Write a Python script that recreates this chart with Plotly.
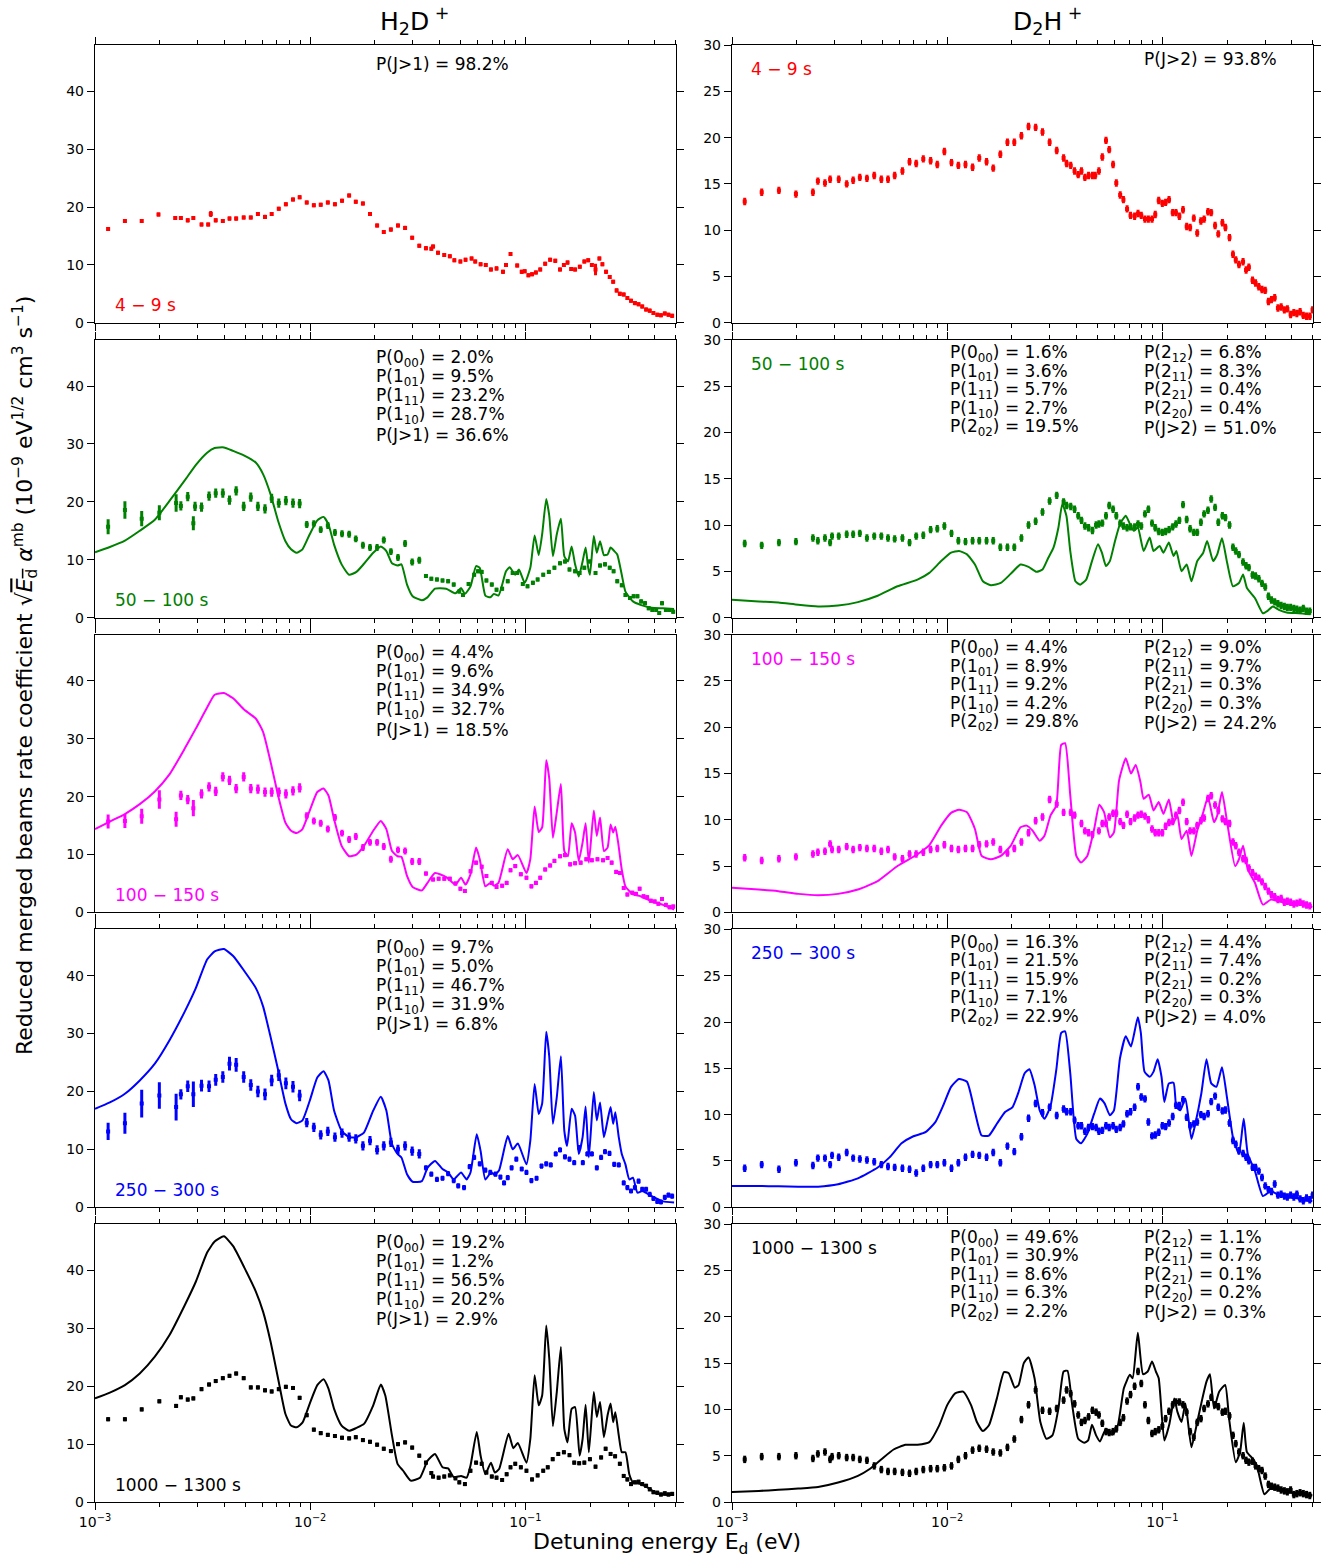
import numpy as np
import plotly.graph_objects as go
from plotly.subplots import make_subplots

# ---------------- DATA (energies stored as log10(E/eV)) ----------------
# H2D+ (left column)
L1_logE = [-2.939,-2.861,-2.783,-2.705,-2.627,-2.601,-2.569,-2.543,-2.505,-2.474,-2.462,-2.439,-2.406,-2.375,-2.344,-2.309,-2.276,-2.243,-2.210,-2.179,
           -2.146,-2.113,-2.080,-2.049,-2.016,-1.983,-1.951,-1.918,-1.885,-1.852,-1.819,-1.788,-1.755,-1.722,-1.689,-1.658,-1.625,-1.592,-1.559,-1.526,
           -1.493,-1.462,-1.437,-1.429,-1.406,-1.377,-1.351,-1.330,-1.302,-1.278,-1.250,-1.233,-1.208,-1.184,-1.160,-1.134,-1.104,-1.090,-1.069,-1.038,
           -1.017,-1.003,-0.986,-0.969,-0.951,-0.931,-0.908,-0.885,-0.861,-0.839,-0.821,-0.804,-0.787,-0.769,-0.747,-0.726,-0.708,-0.691,-0.674,-0.656,
           -0.642,-0.625,-0.608,-0.592,-0.576,-0.561,-0.543,-0.526,-0.509,-0.491,-0.474,-0.457,-0.439,-0.422,-0.405,-0.387,-0.370,-0.352,-0.335,-0.318]
L1_val = [16.2,17.6,17.6,18.7,18.1,18.1,17.7,18.1,17.0,17.0,18.8,17.7,17.6,18.0,18.0,18.2,18.2,18.8,18.3,18.8,
          19.7,20.5,21.3,21.7,20.8,20.3,20.4,20.8,20.5,21.1,22.0,20.9,20.6,18.8,16.8,15.7,16.1,16.8,16.4,14.7,
          13.3,12.9,12.8,13.2,12.1,11.7,11.5,10.8,10.6,10.9,11.1,10.6,10.1,10.0,9.2,9.4,8.8,10.0,11.9,9.9,
          8.8,8.9,8.2,8.4,8.7,9.2,10.2,10.9,10.7,9.2,10.0,10.4,9.3,9.2,9.7,10.6,10.8,10.0,9.2,11.1,
          10.1,8.8,7.9,7.1,5.6,5.0,4.9,4.3,3.8,3.4,3.2,2.8,2.3,2.1,1.7,1.4,1.3,1.6,1.4,1.2]
L1_err = [0.35]*10 + [0.5] + [0.35]*67 + [1.0] + [0.35]*21

L2_logE = [-2.939,-2.861,-2.783,-2.701,-2.623,-2.601,-2.569,-2.543,-2.535,-2.505,-2.470,-2.439,-2.406,-2.375,-2.344,-2.309,-2.276,-2.243,-2.210,-2.179,
           -2.146,-2.113,-2.080,-2.049,-2.016,-1.983,-1.951,-1.918,-1.885,-1.852,-1.819,-1.788,-1.755,-1.722,-1.689,-1.658,-1.625,-1.592,-1.559,-1.526,
           -1.493,-1.462,-1.437,-1.411,-1.385,-1.359,-1.333,-1.307,-1.290,-1.264,-1.238,-1.220,-1.203,-1.181,-1.156,-1.134,-1.108,-1.082,-1.059,-1.038,
           -1.012,-0.990,-0.965,-0.943,-0.917,-0.891,-0.865,-0.839,-0.816,-0.795,-0.769,-0.748,-0.726,-0.700,-0.674,-0.653,-0.630,-0.608,-0.590,-0.573,
           -0.552,-0.535,-0.514,-0.497,-0.479,-0.462,-0.444,-0.427,-0.410,-0.392,-0.378,-0.365,-0.347,-0.330,-0.313]
L2_val = [15.7,18.6,17.1,18.1,19.8,19.3,20.9,16.3,19.2,19.1,21.0,21.5,21.5,20.3,21.9,19.2,20.8,19.2,18.8,20.6,
          19.8,20.2,19.8,19.7,16.1,16.2,15.2,15.9,14.7,14.5,14.4,13.6,12.5,12.1,12.1,13.4,11.4,10.4,12.8,9.6,
          9.9,7.2,6.7,6.6,6.4,6.3,5.7,4.5,3.9,5.8,7.4,8.0,7.9,6.4,5.7,4.8,5.0,6.3,7.7,7.7,
          5.8,5.4,6.0,6.6,7.4,7.9,8.6,9.4,9.7,8.3,8.0,7.7,8.6,9.7,7.7,9.0,9.2,8.6,8.0,6.3,
          5.6,3.9,3.4,3.7,3.7,2.8,2.5,1.6,1.3,1.3,0.8,2.5,1.3,1.3,1.0]
L2_err = [1.3,1.5,1.3,1.3,1.5,0.8,0.8,1.2] + [0.8]*16 + [0.6]*17 + [0.35]*54
L2_line_logE = [-3.0,-2.931,-2.861,-2.792,-2.722,-2.653,-2.583,-2.531,-2.479,-2.444,-2.401,-2.358,-2.306,-2.253,-2.219,-2.184,-2.149,-2.115,-2.089,-2.063,
                -2.036,-2.002,-1.967,-1.938,-1.915,-1.889,-1.854,-1.819,-1.785,-1.750,-1.707,-1.672,-1.646,-1.620,-1.594,-1.576,-1.550,-1.524,-1.481,-1.455,
                -1.420,-1.368,-1.325,-1.299,-1.281,-1.255,-1.229,-1.212,-1.186,-1.163,-1.146,-1.125,-1.090,-1.073,-1.047,-1.030,-1.003,-0.977,-0.957,-0.938,
                -0.922,-0.903,-0.889,-0.872,-0.854,-0.835,-0.819,-0.802,-0.785,-0.769,-0.752,-0.734,-0.720,-0.708,-0.700,-0.682,-0.668,-0.653,-0.635,-0.618,
                -0.604,-0.587,-0.573,-0.552,-0.535,-0.500,-0.465,-0.413,-0.361,-0.309]
L2_line_val = [11.3,12.2,13.3,15.0,16.9,20.2,23.7,26.4,28.5,29.3,29.4,28.8,28.0,26.8,24.8,21.3,16.7,13.2,11.8,11.2,
               11.8,14.4,16.8,17.4,16.1,12.6,9.2,7.4,7.9,9.3,11.2,12.3,11.5,9.4,9.0,9.2,5.7,3.7,3.0,3.5,
               5.0,5.0,4.2,5.1,4.1,5.4,8.9,8.6,3.8,3.5,4.1,3.8,8.0,8.7,7.4,8.3,6.0,8.6,14.2,10.8,
               14.4,20.5,17.6,10.6,14.4,17.1,10.6,9.7,12.3,9.2,7.1,9.7,12.1,8.6,7.4,14.1,11.2,13.2,10.8,10.9,
               12.1,11.5,10.9,7.4,4.5,2.8,2.2,1.7,1.6,1.5]

L3_logE = [-2.939,-2.861,-2.783,-2.701,-2.623,-2.601,-2.569,-2.543,-2.505,-2.470,-2.439,-2.406,-2.375,-2.344,-2.309,-2.276,-2.243,-2.210,-2.179,-2.146,
           -2.113,-2.080,-2.049,-2.016,-1.983,-1.951,-1.918,-1.885,-1.852,-1.819,-1.788,-1.755,-1.722,-1.689,-1.658,-1.625,-1.592,-1.559,-1.526,-1.493,
           -1.462,-1.429,-1.403,-1.377,-1.351,-1.325,-1.302,-1.281,-1.255,-1.229,-1.203,-1.181,-1.156,-1.134,-1.108,-1.087,-1.069,-1.047,-1.021,-0.995,
           -0.972,-0.951,-0.931,-0.908,-0.885,-0.865,-0.839,-0.816,-0.792,-0.769,-0.743,-0.717,-0.691,-0.665,-0.639,-0.618,-0.599,-0.578,-0.561,-0.543,
           -0.526,-0.503,-0.486,-0.469,-0.451,-0.434,-0.417,-0.399,-0.382,-0.365,-0.347,-0.330,-0.313]
L3_val = [15.7,15.8,16.6,19.5,16.1,20.2,19.5,18.0,20.5,21.7,20.9,23.4,22.8,21.4,23.4,21.4,21.3,20.8,20.8,20.8,
          20.5,21.0,21.5,16.7,15.8,15.4,14.4,16.4,13.7,12.6,13.1,11.2,12.1,12.1,11.4,9.2,10.8,10.6,8.8,8.8,
          6.7,5.7,5.8,5.8,5.8,5.0,4.1,3.7,7.1,8.6,7.9,6.3,5.1,4.4,4.6,5.1,7.3,8.0,6.6,6.0,
          4.5,5.1,6.0,7.4,8.1,8.9,9.7,9.9,8.3,8.5,8.6,9.2,9.0,9.2,9.0,9.4,8.6,7.0,6.8,4.2,
          3.1,3.4,3.2,4.1,2.8,2.6,2.0,1.9,1.5,2.3,1.3,0.9,1.0]
L3_err = [1.2,1.2,1.3,1.6,1.3,0.8,0.8,1.4] + [0.8]*15 + [0.6]*17 + [0.35]*53
L3_line_logE = [-3.0,-2.931,-2.861,-2.792,-2.722,-2.653,-2.583,-2.531,-2.479,-2.444,-2.401,-2.358,-2.306,-2.253,-2.219,-2.184,-2.149,-2.115,-2.089,-2.063,
                -2.036,-2.002,-1.967,-1.938,-1.915,-1.889,-1.854,-1.819,-1.785,-1.750,-1.707,-1.672,-1.646,-1.620,-1.594,-1.576,-1.550,-1.524,-1.481,-1.455,
                -1.420,-1.368,-1.325,-1.299,-1.278,-1.255,-1.229,-1.212,-1.186,-1.163,-1.146,-1.125,-1.082,-1.059,-1.035,-0.995,-0.977,-0.957,-0.938,-0.922,
                -0.903,-0.889,-0.872,-0.854,-0.835,-0.819,-0.802,-0.785,-0.769,-0.752,-0.734,-0.720,-0.705,-0.682,-0.668,-0.653,-0.635,-0.618,-0.604,-0.592,
                -0.582,-0.569,-0.552,-0.535,-0.500,-0.465,-0.413,-0.361,-0.309]
L3_line_val = [14.4,15.7,17.0,18.7,20.9,23.9,28.3,31.8,35.4,37.6,37.9,37.0,35.0,33.5,31.2,26.0,20.2,15.5,14.1,13.7,
               14.4,17.6,20.8,21.4,20.2,16.1,11.5,9.7,10.0,11.5,14.1,15.8,14.4,10.6,9.7,9.6,6.3,4.4,3.8,5.1,
               6.8,6.1,4.8,6.0,4.8,6.6,11.2,9.2,4.5,5.1,4.6,5.1,10.9,9.2,9.9,6.8,9.2,18.3,13.9,14.7,
               26.3,23.1,12.9,17.3,22.2,10.6,9.7,15.4,13.8,8.9,12.1,15.4,8.6,17.6,13.2,16.4,10.6,11.2,15.2,13.8,
               14.8,12.1,7.4,4.5,3.1,2.8,1.9,1.3,0.5]

L4_logE = [-2.939,-2.861,-2.783,-2.701,-2.623,-2.601,-2.569,-2.543,-2.505,-2.470,-2.439,-2.406,-2.375,-2.344,-2.309,-2.276,-2.243,-2.210,-2.179,-2.146,
           -2.113,-2.080,-2.049,-2.016,-1.983,-1.951,-1.918,-1.885,-1.852,-1.819,-1.788,-1.755,-1.722,-1.689,-1.658,-1.625,-1.592,-1.559,-1.526,-1.493,
           -1.462,-1.437,-1.411,-1.385,-1.359,-1.333,-1.312,-1.285,-1.259,-1.238,-1.212,-1.186,-1.163,-1.139,-1.116,-1.099,-1.082,-1.064,-1.042,-1.017,
           -0.995,-0.972,-0.948,-0.925,-0.903,-0.882,-0.859,-0.839,-0.816,-0.795,-0.773,-0.750,-0.733,-0.712,-0.691,-0.668,-0.648,-0.630,-0.609,-0.587,
           -0.566,-0.543,-0.526,-0.509,-0.491,-0.474,-0.457,-0.439,-0.422,-0.405,-0.387,-0.370,-0.352,-0.335,-0.318]
L4_val = [13.1,14.5,17.9,19.3,17.3,19.5,20.9,19.5,21.0,20.9,22.0,22.5,24.8,24.6,22.5,21.1,20.0,19.5,21.9,22.8,
          21.4,20.8,19.3,14.6,13.8,12.5,13.1,12.1,12.8,12.1,11.8,10.6,11.5,9.9,10.6,11.2,10.0,10.6,9.7,9.2,
          6.8,5.7,4.8,5.0,5.8,4.6,3.7,3.4,7.0,8.6,7.5,6.4,6.0,5.7,5.2,4.2,5.1,6.8,8.3,6.6,
          6.0,4.6,5.0,7.1,7.5,7.3,9.2,9.9,8.7,8.3,7.7,10.3,7.7,9.2,9.2,6.8,8.6,9.6,9.3,7.4,
          7.3,4.2,3.4,2.8,3.4,4.5,3.1,3.1,2.2,1.5,1.0,0.9,1.7,2.1,1.9]
L4_err = [1.5,1.8,2.4,2.3,2.3,0.9,1.0,2.2] + [1.0]*4 + [1.2]*2 + [1.0]*9 + [0.8]*17 + [0.45]*55
L4_line_logE = [-3.0,-2.931,-2.861,-2.792,-2.722,-2.653,-2.583,-2.531,-2.479,-2.444,-2.401,-2.358,-2.306,-2.253,-2.219,-2.184,-2.149,-2.115,-2.089,-2.063,
                -2.036,-2.002,-1.967,-1.938,-1.915,-1.889,-1.854,-1.819,-1.785,-1.750,-1.707,-1.672,-1.646,-1.620,-1.594,-1.576,-1.550,-1.524,-1.481,-1.455,
                -1.420,-1.385,-1.359,-1.333,-1.299,-1.273,-1.255,-1.226,-1.208,-1.186,-1.160,-1.142,-1.122,-1.082,-1.059,-1.035,-0.995,-0.977,-0.957,-0.938,
                -0.922,-0.903,-0.889,-0.872,-0.854,-0.835,-0.819,-0.806,-0.785,-0.769,-0.752,-0.734,-0.720,-0.705,-0.682,-0.668,-0.653,-0.635,-0.618,-0.604,
                -0.592,-0.582,-0.566,-0.552,-0.535,-0.517,-0.500,-0.479,-0.457,-0.431,-0.396,-0.361,-0.309]
L4_line_val = [17.0,18.1,19.6,21.9,24.8,28.9,33.8,37.9,42.8,44.2,44.6,43.4,40.8,37.9,34.7,29.4,23.7,17.9,15.2,14.5,
               15.0,18.4,22.4,23.5,21.9,16.7,13.2,12.1,12.1,12.9,16.7,19.1,16.7,10.9,9.2,8.6,5.7,4.4,4.5,6.8,
               8.0,6.6,6.0,4.8,6.0,4.8,6.0,12.6,9.7,4.8,6.0,5.6,6.4,12.3,10.0,11.0,7.4,11.5,21.3,16.1,
               17.9,30.3,26.0,14.4,19.0,26.1,13.2,10.6,17.0,15.8,9.2,12.1,17.4,8.6,19.9,15.0,18.1,12.1,15.0,17.3,
               14.4,16.4,12.1,9.2,7.4,4.8,5.1,2.5,2.8,2.3,1.6,1.0,0.8]

L5_logE = [-2.939,-2.861,-2.783,-2.701,-2.623,-2.601,-2.569,-2.543,-2.505,-2.470,-2.439,-2.406,-2.375,-2.344,-2.309,-2.276,-2.243,-2.210,-2.179,-2.146,
           -2.113,-2.080,-2.049,-2.016,-1.983,-1.951,-1.918,-1.885,-1.852,-1.819,-1.788,-1.755,-1.722,-1.689,-1.658,-1.625,-1.592,-1.559,-1.526,-1.493,
           -1.462,-1.437,-1.429,-1.403,-1.377,-1.351,-1.325,-1.307,-1.281,-1.255,-1.229,-1.203,-1.181,-1.156,-1.134,-1.108,-1.087,-1.069,-1.047,-1.021,
           -0.995,-0.969,-0.943,-0.917,-0.896,-0.873,-0.847,-0.821,-0.795,-0.773,-0.750,-0.726,-0.700,-0.674,-0.648,-0.627,-0.604,-0.583,-0.561,-0.543,
           -0.526,-0.509,-0.491,-0.474,-0.457,-0.439,-0.422,-0.405,-0.387,-0.370,-0.352,-0.335,-0.318]
L5_val = [14.3,14.3,16.0,17.4,16.6,18.1,17.7,17.9,19.5,20.3,20.9,21.4,21.8,22.2,21.4,19.8,19.8,19.3,19.1,19.5,
          19.9,19.7,18.0,15.0,12.5,11.9,11.6,11.4,11.1,11.0,11.2,10.7,10.4,9.9,9.2,8.8,10.0,10.3,9.4,8.0,
          6.8,5.0,4.4,4.2,4.4,4.6,4.1,3.4,3.1,5.4,6.8,6.6,5.1,4.4,4.2,3.8,4.8,6.0,6.6,6.0,
          5.4,3.9,4.6,5.4,6.0,7.4,8.3,8.6,8.1,6.8,6.7,6.8,7.4,6.1,7.7,9.2,8.3,7.9,6.6,4.5,
          3.9,3.1,3.4,3.5,3.1,2.8,2.2,1.7,1.6,1.3,1.5,1.3,1.4]
L5_err = [0.35]*93
L5_line_logE = [-3.0,-2.931,-2.861,-2.792,-2.722,-2.653,-2.583,-2.531,-2.479,-2.444,-2.401,-2.358,-2.306,-2.253,-2.219,-2.184,-2.149,-2.115,-2.089,-2.063,
                -2.036,-2.002,-1.967,-1.938,-1.915,-1.889,-1.854,-1.819,-1.785,-1.750,-1.707,-1.672,-1.651,-1.620,-1.594,-1.568,-1.533,-1.490,-1.455,-1.420,
                -1.385,-1.359,-1.333,-1.299,-1.273,-1.255,-1.226,-1.208,-1.186,-1.160,-1.142,-1.122,-1.078,-1.056,-1.035,-0.995,-0.977,-0.957,-0.938,-0.922,
                -0.903,-0.889,-0.872,-0.854,-0.835,-0.819,-0.804,-0.785,-0.769,-0.748,-0.734,-0.720,-0.705,-0.682,-0.668,-0.653,-0.635,-0.618,-0.604,-0.592,
                -0.582,-0.566,-0.552,-0.535,-0.517,-0.500,-0.465,-0.431,-0.396,-0.361,-0.309]
L5_line_val = [17.9,18.9,20.2,22.2,25.1,28.9,34.0,38.1,43.1,45.0,45.9,44.2,40.5,36.4,32.9,27.7,21.3,15.2,13.2,12.9,
               13.7,17.0,20.2,21.2,19.6,16.1,13.2,12.3,12.8,13.5,16.7,20.3,18.4,11.5,6.6,5.4,3.7,4.2,7.1,8.3,
               6.0,5.8,4.3,4.5,4.2,6.3,12.1,8.0,4.8,6.8,5.1,5.7,11.8,9.3,10.2,6.8,10.9,21.9,16.7,18.4,
               30.5,24.8,13.1,19.0,26.8,12.6,10.3,16.1,16.4,8.0,10.9,16.8,8.6,19.0,14.7,17.3,11.2,15.0,17.0,13.8,
               15.5,11.5,8.6,8.6,4.8,3.4,3.1,2.5,1.6,1.3,1.2]

# D2H+ (right column)
R1_logE = [-2.941,-2.862,-2.782,-2.703,-2.624,-2.601,-2.568,-2.544,-2.504,-2.467,-2.437,-2.406,-2.373,-2.339,-2.306,-2.275,-2.244,-2.208,-2.175,-2.144,
           -2.111,-2.077,-2.046,-2.013,-1.980,-1.948,-1.915,-1.882,-1.851,-1.817,-1.786,-1.753,-1.720,-1.688,-1.655,-1.622,-1.589,-1.557,-1.524,-1.491,
           -1.459,-1.445,-1.426,-1.408,-1.391,-1.376,-1.360,-1.343,-1.325,-1.312,-1.295,-1.279,-1.262,-1.247,-1.229,-1.214,-1.196,-1.181,-1.164,-1.148,
           -1.129,-1.113,-1.098,-1.081,-1.065,-1.048,-1.033,-1.017,-1.000,-0.985,-0.969,-0.952,-0.937,-0.921,-0.904,-0.887,-0.871,-0.854,-0.838,-0.821,
           -0.806,-0.788,-0.773,-0.755,-0.740,-0.721,-0.707,-0.688,-0.672,-0.659,-0.644,-0.625,-0.611,-0.598,-0.581,-0.567,-0.552,-0.537,-0.522,-0.507,
           -0.493,-0.478,-0.463,-0.448,-0.433,-0.419,-0.404,-0.389,-0.375,-0.360,-0.345,-0.330,-0.315,-0.302]
R1_val = [13.1,14.1,14.3,13.9,14.1,15.3,15.1,15.5,15.5,15.0,15.4,15.7,15.6,15.9,15.5,15.5,15.9,16.4,17.4,17.2,
          17.7,17.5,17.1,18.5,17.3,17.0,17.1,16.8,17.8,17.4,16.7,18.2,19.5,19.5,20.2,21.2,21.1,20.6,19.5,18.6,
          17.8,17.2,17.0,16.4,16.0,16.4,15.7,15.9,15.9,15.9,16.4,17.9,19.7,18.7,17.1,15.1,13.8,13.3,12.3,11.6,
          11.5,11.8,11.6,11.2,11.2,11.2,11.7,13.2,12.9,13.0,13.3,11.9,11.9,11.5,12.2,10.4,10.3,11.3,9.7,11.0,
          11.2,12.0,11.9,10.5,9.6,10.8,10.3,9.2,7.4,6.8,6.3,6.6,5.7,6.0,4.6,4.3,3.9,3.6,3.5,2.3,
          2.5,2.7,1.6,1.7,1.4,1.5,0.9,1.1,1.0,1.2,0.8,0.7,0.7,1.4]

R_grid_114 = [-2.941,-2.862,-2.782,-2.703,-2.624,-2.601,-2.568,-2.544,-2.535,-2.504,-2.467,-2.437,-2.406,-2.373,-2.339,-2.306,-2.275,-2.244,-2.208,-2.175,
              -2.144,-2.111,-2.077,-2.046,-2.013,-1.980,-1.948,-1.915,-1.882,-1.851,-1.817,-1.786,-1.753,-1.720,-1.688,-1.655,-1.622,-1.589,-1.557,-1.524,
              -1.491,-1.459,-1.445,-1.426,-1.408,-1.391,-1.376,-1.360,-1.343,-1.325,-1.308,-1.295,-1.279,-1.262,-1.247,-1.229,-1.214,-1.196,-1.181,-1.164,
              -1.148,-1.129,-1.113,-1.098,-1.081,-1.065,-1.048,-1.033,-1.017,-1.000,-0.985,-0.969,-0.952,-0.937,-0.921,-0.904,-0.887,-0.871,-0.854,-0.838,
              -0.821,-0.806,-0.788,-0.773,-0.755,-0.740,-0.721,-0.707,-0.688,-0.672,-0.659,-0.644,-0.625,-0.611,-0.598,-0.581,-0.567,-0.552,-0.537,-0.522,
              -0.507,-0.493,-0.478,-0.463,-0.448,-0.433,-0.419,-0.404,-0.389,-0.375,-0.360,-0.345,-0.330,-0.315]

R2_logE = R_grid_114
R2_val = [8.0,7.8,8.1,8.2,8.6,8.3,8.6,8.1,8.8,8.8,9.0,9.0,9.1,8.6,8.8,8.8,8.6,8.5,8.6,8.1,
          8.8,8.9,9.5,9.6,9.9,9.1,8.3,8.2,8.3,8.3,8.3,8.3,7.6,7.6,7.6,8.6,10.0,10.4,11.4,12.6,
          13.2,12.5,12.1,12.0,11.7,11.0,10.5,9.9,9.7,9.4,10.0,10.1,10.2,11.0,12.1,11.7,11.0,10.2,9.9,9.7,
          9.8,9.8,10.1,9.9,11.2,11.7,10.2,9.7,9.3,9.2,9.3,9.5,9.8,10.1,10.5,12.2,10.6,9.6,9.2,9.2,
          10.3,11.2,11.6,12.8,11.9,10.3,11.0,10.8,10.0,7.6,7.2,6.8,6.0,5.6,5.4,4.6,4.5,4.2,3.7,3.3,
          2.3,1.9,1.7,1.5,1.3,1.2,1.1,1.1,1.0,0.9,0.8,1.0,0.7,0.7]
R2_line_logE = [-3.0,-2.876,-2.784,-2.692,-2.600,-2.507,-2.415,-2.323,-2.231,-2.138,-2.083,-2.028,-1.982,-1.945,-1.908,-1.871,-1.834,-1.797,-1.751,-1.705,
                -1.659,-1.622,-1.585,-1.557,-1.530,-1.506,-1.483,-1.465,-1.446,-1.428,-1.404,-1.382,-1.354,-1.327,-1.299,-1.281,-1.262,-1.244,-1.220,-1.197,
                -1.170,-1.151,-1.133,-1.114,-1.087,-1.059,-1.041,-1.013,-0.995,-0.970,-0.948,-0.935,-0.911,-0.887,-0.865,-0.838,-0.810,-0.792,-0.764,-0.745,
                -0.723,-0.699,-0.672,-0.644,-0.625,-0.607,-0.570,-0.533,-0.511,-0.487,-0.459,-0.422,-0.367,-0.311]
R2_line_val = [1.93,1.74,1.63,1.38,1.20,1.31,1.67,2.36,3.38,4.10,4.83,6.10,7.01,7.19,6.83,5.74,3.92,3.49,3.74,4.72,
               5.74,5.48,4.94,5.19,6.47,7.56,9.73,12.28,11.0,7.19,3.92,3.56,4.10,6.10,7.92,7.01,5.56,6.10,8.28,10.10,
               11.0,10.10,9.37,9.73,7.19,8.64,7.19,7.74,7.01,8.10,6.65,7.19,5.01,5.74,3.92,6.10,7.01,8.28,6.10,6.83,
               8.57,5.92,3.38,3.74,4.65,3.20,2.11,0.47,0.73,1.20,0.84,0.54,0.47,0.36]

R3_logE = [-2.941,-2.862,-2.782,-2.703,-2.624,-2.601,-2.568,-2.544,-2.535,-2.504,-2.467,-2.437,-2.406,-2.373,-2.339,-2.306,-2.275,-2.244,-2.208,-2.175,
           -2.144,-2.111,-2.077,-2.046,-2.013,-1.980,-1.948,-1.915,-1.882,-1.851,-1.817,-1.786,-1.753,-1.720,-1.688,-1.655,-1.622,-1.589,-1.557,-1.524,
           -1.491,-1.459,-1.426,-1.408,-1.376,-1.360,-1.343,-1.325,-1.295,-1.279,-1.262,-1.247,-1.229,-1.214,-1.196,-1.181,-1.164,-1.148,-1.129,-1.113,
           -1.098,-1.081,-1.065,-1.048,-1.033,-1.017,-1.000,-0.985,-0.969,-0.952,-0.937,-0.921,-0.904,-0.887,-0.871,-0.854,-0.838,-0.821,-0.806,-0.788,
           -0.773,-0.755,-0.740,-0.721,-0.707,-0.688,-0.672,-0.659,-0.644,-0.625,-0.611,-0.598,-0.581,-0.567,-0.552,-0.537,-0.522,-0.507,-0.493,-0.478,
           -0.463,-0.448,-0.433,-0.419,-0.404,-0.389,-0.375,-0.360,-0.345,-0.330,-0.315]
R3_val = [5.9,5.6,5.8,6.0,6.3,6.5,6.6,7.4,6.8,6.8,7.1,6.8,7.0,6.9,6.9,6.6,6.8,6.0,5.8,6.3,
          6.3,6.5,6.8,6.9,7.3,6.9,6.8,6.9,6.9,7.3,7.4,7.6,6.8,6.4,6.9,7.6,8.6,9.9,10.3,12.2,
          11.7,10.8,10.8,10.5,9.6,8.8,8.6,8.4,8.8,9.6,9.6,10.3,10.7,10.7,9.8,9.4,10.6,9.8,10.2,10.5,
          10.6,10.4,10.0,9.0,8.6,8.6,8.6,9.3,9.7,9.8,10.5,11.0,11.9,9.8,8.8,8.8,9.4,9.9,10.2,12.3,
          12.6,11.6,11.0,10.1,9.8,9.6,7.6,7.2,6.5,5.8,5.6,4.8,4.3,3.9,3.7,3.3,2.8,2.3,1.9,1.7,
          1.4,1.5,1.1,1.2,1.1,0.9,1.0,1.1,0.9,0.8,0.7]
R3_line_logE = [-3.0,-2.876,-2.784,-2.692,-2.600,-2.507,-2.415,-2.323,-2.231,-2.138,-2.083,-2.028,-1.982,-1.945,-1.908,-1.871,-1.840,-1.797,-1.751,-1.705,
                -1.659,-1.631,-1.603,-1.570,-1.548,-1.520,-1.493,-1.470,-1.452,-1.428,-1.400,-1.378,-1.349,-1.317,-1.293,-1.271,-1.244,-1.225,-1.201,-1.170,
                -1.146,-1.124,-1.102,-1.087,-1.063,-1.041,-1.017,-0.995,-0.970,-0.948,-0.930,-0.911,-0.887,-0.865,-0.838,-0.810,-0.788,-0.760,-0.745,-0.723,
                -0.699,-0.662,-0.644,-0.625,-0.603,-0.570,-0.533,-0.496,-0.459,-0.404,-0.349,-0.303]
R3_line_val = [2.65,2.47,2.29,2.00,1.85,2.00,2.47,3.38,5.01,6.28,7.26,9.37,10.75,11.08,10.82,9.01,6.10,5.74,6.10,7.19,
               9.19,9.37,8.83,7.74,8.28,10.46,11.55,18.09,18.27,12.64,6.10,5.38,6.10,9.01,11.62,10.82,8.10,8.64,14.28,16.64,
               15.00,15.91,14.09,12.28,12.71,11.01,11.91,10.64,12.2,9.73,10.46,7.92,8.83,6.10,8.83,10.82,12.46,9.73,10.46,13.0,
               9.73,5.01,5.74,7.19,4.65,3.20,0.84,1.38,1.20,0.94,0.84,0.58]

R4_logE = R_grid_114 + [-0.302]
R4_val = [4.2,4.6,4.1,4.8,4.5,5.3,5.3,4.6,5.6,5.4,5.9,5.3,5.2,5.1,4.9,4.6,4.4,4.3,4.2,4.1,
          3.7,4.2,4.6,4.6,4.8,4.2,4.8,5.4,5.7,5.6,5.4,5.9,4.8,6.6,6.0,7.6,9.6,11.2,10.2,10.8,
          9.9,10.6,10.3,10.3,9.4,8.8,8.8,8.2,8.6,8.7,8.6,8.2,8.3,8.8,8.6,8.8,8.4,8.6,9.0,10.1,
          10.3,10.8,13.0,11.9,11.7,9.2,7.7,7.8,8.1,8.8,8.7,9.1,9.8,11.0,11.0,11.6,9.7,8.8,9.0,9.2,
          10.0,9.8,10.1,11.4,12.0,10.8,10.4,10.5,9.1,7.2,6.8,6.1,5.8,5.4,5.0,4.3,4.3,3.9,3.2,2.3,
          1.9,1.7,2.5,1.3,1.4,1.2,1.1,1.3,1.1,1.4,0.9,0.7,1.0,0.8,1.3]
R4_line_logE = [-3.0,-2.876,-2.784,-2.692,-2.600,-2.507,-2.415,-2.323,-2.268,-2.212,-2.157,-2.101,-2.055,-2.018,-1.982,-1.945,-1.908,-1.871,-1.840,-1.806,
                -1.769,-1.731,-1.696,-1.668,-1.640,-1.618,-1.594,-1.570,-1.548,-1.520,-1.493,-1.470,-1.452,-1.428,-1.400,-1.378,-1.349,-1.317,-1.290,-1.268,
                -1.244,-1.225,-1.197,-1.170,-1.146,-1.114,-1.100,-1.083,-1.059,-1.041,-1.022,-1.004,-0.991,-0.970,-0.948,-0.935,-0.917,-0.893,-0.865,-0.847,
                -0.819,-0.795,-0.773,-0.749,-0.723,-0.699,-0.672,-0.644,-0.622,-0.603,-0.570,-0.533,-0.496,-0.459,-0.404,-0.349,-0.303]
R4_line_val = [2.29,2.29,2.25,2.22,2.22,2.47,3.12,4.29,5.38,6.90,7.66,8.10,9.19,11.01,13.00,13.84,13.55,10.28,7.74,7.74,
               9.01,10.28,10.82,12.46,14.46,14.89,13.19,10.46,9.55,10.90,14.82,18.82,19.00,14.46,7.37,6.90,7.92,10.10,11.73,11.19,
               9.92,10.46,16.09,18.45,17.36,20.52,18.82,14.64,14.09,14.64,15.98,14.09,11.37,13.37,13.44,10.82,10.46,11.73,7.37,9.01,
               12.28,15.98,13.37,13.00,15.11,11.73,7.56,5.74,9.55,5.74,3.92,1.20,1.74,1.31,1.09,0.84,0.65]

R5_logE = R_grid_114
R5_val = [4.6,4.9,4.9,5.0,4.7,5.2,5.4,4.6,4.9,5.0,4.8,4.8,4.6,4.5,3.9,3.5,3.3,3.3,3.2,3.1,
          3.3,3.5,3.6,3.6,3.7,3.9,4.6,5.0,5.6,5.8,5.7,5.4,5.3,5.9,6.8,8.9,10.5,12.1,9.9,9.8,
          10.1,11.0,12.1,11.7,10.6,9.4,8.6,8.8,9.2,9.9,9.7,9.4,8.5,7.6,7.5,7.6,7.9,8.6,9.1,10.9,
          11.6,12.5,14.1,12.8,10.5,8.8,7.4,7.6,7.8,8.2,9.0,9.8,10.5,10.8,10.8,10.5,9.7,7.6,7.0,8.6,
          9.0,10.1,10.6,11.3,10.5,10.3,9.7,9.8,9.3,7.2,6.3,5.4,5.0,4.5,4.3,4.4,3.9,3.6,3.4,2.8,
          1.9,1.7,1.6,1.5,1.3,1.2,1.1,1.3,0.8,0.9,1.0,0.9,0.8,0.7]
R5_line_logE = [-3.0,-2.876,-2.784,-2.692,-2.600,-2.507,-2.415,-2.360,-2.304,-2.249,-2.194,-2.138,-2.083,-2.037,-2.000,-1.963,-1.926,-1.889,-1.862,-1.834,
                -1.806,-1.769,-1.736,-1.714,-1.686,-1.668,-1.644,-1.622,-1.594,-1.567,-1.539,-1.511,-1.483,-1.459,-1.441,-1.419,-1.391,-1.363,-1.345,-1.327,
                -1.308,-1.290,-1.262,-1.234,-1.207,-1.179,-1.151,-1.138,-1.114,-1.090,-1.068,-1.048,-1.030,-1.017,-0.991,-0.967,-0.945,-0.930,-0.911,-0.893,
                -0.865,-0.838,-0.814,-0.795,-0.779,-0.760,-0.736,-0.708,-0.690,-0.659,-0.639,-0.622,-0.607,-0.576,-0.557,-0.526,-0.498,-0.461,-0.404,-0.349,
                -0.303]
R5_line_val = [1.09,1.20,1.31,1.45,1.63,2.11,2.83,3.56,4.65,5.67,6.18,6.18,6.47,8.28,10.46,11.73,11.91,10.46,8.64,7.66,
               8.28,11.19,14.02,13.91,12.35,12.64,15.00,15.62,13.37,8.64,6.83,7.19,10.10,14.09,14.17,10.46,6.83,6.39,6.65,8.35,
               7.19,6.54,7.92,7.26,8.28,12.28,13.73,13.37,18.27,13.80,14.09,15.18,14.09,13.37,6.65,8.46,11.19,9.73,8.64,10.64,
               5.92,8.64,11.19,13.0,13.80,10.10,11.91,12.64,9.01,4.29,5.38,8.57,5.38,4.58,3.56,0.84,1.45,1.31,1.02,0.80,
               0.73]

time_labels = ["4 \u2212 9 s", "50 \u2212 100 s", "100 \u2212 150 s", "250 \u2212 300 s", "1000 \u2212 1300 s"]
colors = ["#ff0000", "#008000", "#ff00ff", "#0000ff", "#000000"]

left_pops = [
    ["P(J&gt;1) = 98.2%"],
    ["P(0<sub>00</sub>) = 2.0%", "P(1<sub>01</sub>) = 9.5%", "P(1<sub>11</sub>) = 23.2%", "P(1<sub>10</sub>) = 28.7%", "P(J&gt;1) = 36.6%"],
    ["P(0<sub>00</sub>) = 4.4%", "P(1<sub>01</sub>) = 9.6%", "P(1<sub>11</sub>) = 34.9%", "P(1<sub>10</sub>) = 32.7%", "P(J&gt;1) = 18.5%"],
    ["P(0<sub>00</sub>) = 9.7%", "P(1<sub>01</sub>) = 5.0%", "P(1<sub>11</sub>) = 46.7%", "P(1<sub>10</sub>) = 31.9%", "P(J&gt;1) = 6.8%"],
    ["P(0<sub>00</sub>) = 19.2%", "P(1<sub>01</sub>) = 1.2%", "P(1<sub>11</sub>) = 56.5%", "P(1<sub>10</sub>) = 20.2%", "P(J&gt;1) = 2.9%"],
]
right_pops_a = [
    [],
    ["P(0<sub>00</sub>) = 1.6%", "P(1<sub>01</sub>) = 3.6%", "P(1<sub>11</sub>) = 5.7%", "P(1<sub>10</sub>) = 2.7%", "P(2<sub>02</sub>) = 19.5%"],
    ["P(0<sub>00</sub>) = 4.4%", "P(1<sub>01</sub>) = 8.9%", "P(1<sub>11</sub>) = 9.2%", "P(1<sub>10</sub>) = 4.2%", "P(2<sub>02</sub>) = 29.8%"],
    ["P(0<sub>00</sub>) = 16.3%", "P(1<sub>01</sub>) = 21.5%", "P(1<sub>11</sub>) = 15.9%", "P(1<sub>10</sub>) = 7.1%", "P(2<sub>02</sub>) = 22.9%"],
    ["P(0<sub>00</sub>) = 49.6%", "P(1<sub>01</sub>) = 30.9%", "P(1<sub>11</sub>) = 8.6%", "P(1<sub>10</sub>) = 6.3%", "P(2<sub>02</sub>) = 2.2%"],
]
right_pops_b = [
    ["P(J&gt;2) = 93.8%"],
    ["P(2<sub>12</sub>) = 6.8%", "P(2<sub>11</sub>) = 8.3%", "P(2<sub>21</sub>) = 0.4%", "P(2<sub>20</sub>) = 0.4%", "P(J&gt;2) = 51.0%"],
    ["P(2<sub>12</sub>) = 9.0%", "P(2<sub>11</sub>) = 9.7%", "P(2<sub>21</sub>) = 0.3%", "P(2<sub>20</sub>) = 0.3%", "P(J&gt;2) = 24.2%"],
    ["P(2<sub>12</sub>) = 4.4%", "P(2<sub>11</sub>) = 7.4%", "P(2<sub>21</sub>) = 0.2%", "P(2<sub>20</sub>) = 0.3%", "P(J&gt;2) = 4.0%"],
    ["P(2<sub>12</sub>) = 1.1%", "P(2<sub>11</sub>) = 0.7%", "P(2<sub>21</sub>) = 0.1%", "P(2<sub>20</sub>) = 0.2%", "P(J&gt;2) = 0.3%"],
]

x_tickvals = [1e-3, 1e-2, 1e-1]
x_ticktext = ["10<sup>\u22123</sup>", "10<sup>\u22122</sup>", "10<sup>\u22121</sup>"]
x_minor = [2e-3,3e-3,4e-3,5e-3,6e-3,7e-3,8e-3,9e-3,2e-2,3e-2,4e-2,5e-2,6e-2,7e-2,8e-2,9e-2,2e-1,3e-1,4e-1,5e-1]

left_points = [(L1_logE, L1_val, L1_err), (L2_logE, L2_val, L2_err), (L3_logE, L3_val, L3_err),
               (L4_logE, L4_val, L4_err), (L5_logE, L5_val, L5_err)]
left_lines = [None, (L2_line_logE, L2_line_val), (L3_line_logE, L3_line_val),
              (L4_line_logE, L4_line_val), (L5_line_logE, L5_line_val)]
right_points = [(R1_logE, R1_val), (R2_logE, R2_val), (R3_logE, R3_val), (R4_logE, R4_val), (R5_logE, R5_val)]
right_lines = [None, (R2_line_logE, R2_line_val), (R3_line_logE, R3_line_val),
               (R4_line_logE, R4_line_val), (R5_line_logE, R5_line_val)]

# ---------------- FIGURE ----------------
FONT = "DejaVu Sans"
W, H = 1326, 1558
ML, MR, MT, MB = 95, 13, 45, 56
PW = W - ML - MR
PHt = H - MT - MB
fig = make_subplots(rows=5, cols=2, horizontal_spacing=56/PW, vertical_spacing=17/PHt)

def E(logs):
    return 10 ** np.array(logs)

for r in range(5):
    c = colors[r]
    xs, ys, es = left_points[r]
    if left_lines[r] is not None:
        lx, ly = left_lines[r]
        fig.add_trace(go.Scatter(x=E(lx), y=ly, mode="lines", line=dict(color=c, width=2, shape="spline", smoothing=0.5),
                                 showlegend=False, hoverinfo="skip"), row=r+1, col=1)
    fig.add_trace(go.Scatter(x=E(xs), y=ys, mode="markers",
                             marker=dict(symbol="square", size=4, color=c, line=dict(width=0)),
                             error_y=dict(type="data", array=es, visible=True, thickness=3, width=0, color=c),
                             showlegend=False), row=r+1, col=1)
    xs, ys = right_points[r]
    if right_lines[r] is not None:
        lx, ly = right_lines[r]
        fig.add_trace(go.Scatter(x=E(lx), y=ly, mode="lines", line=dict(color=c, width=2, shape="spline", smoothing=0.5),
                                 showlegend=False, hoverinfo="skip"), row=r+1, col=2)
    fig.add_trace(go.Scatter(x=E(xs), y=ys, mode="markers",
                             marker=dict(symbol="square", size=4, color=c, line=dict(width=0)),
                             error_y=dict(type="constant", value=0.4, visible=True, thickness=3, width=0, color=c),
                             showlegend=False), row=r+1, col=2)

axis_common = dict(showline=True, linecolor="black", linewidth=1.4, mirror="allticks",
                   ticks="outside", ticklen=7, tickwidth=1.3, tickcolor="black",
                   showgrid=False, zeroline=False, automargin=False,
                   tickfont=dict(family=FONT, size=14, color="black"))

for r in range(1, 6):
    for c in (1, 2):
        fig.update_xaxes(type="log", range=[-3, -0.30], tickvals=x_tickvals, ticktext=x_ticktext,
                         showticklabels=(r == 5),
                         minor=dict(ticks="outside", ticklen=4, tickwidth=1, tickcolor="black", tickvals=x_minor, showgrid=False),
                         row=r, col=c, **axis_common)
        if c == 1:
            fig.update_yaxes(range=[0, 48], tickvals=[0, 10, 20, 30, 40], row=r, col=c, **axis_common)
        else:
            fig.update_yaxes(range=[0, 30], tickvals=[0, 5, 10, 15, 20, 25, 30], row=r, col=c, **axis_common)

annotations = []
PH = 278.0
def ref(r, c):
    n = r * 2 + c
    return ("x domain" if n == 1 else f"x{n} domain"), ("y domain" if n == 1 else f"y{n} domain")

txt_font = dict(family=FONT, size=17, color="black")
for r in range(5):
    xr, yr = ref(r, 1)
    for k, t in enumerate(left_pops[r]):
        annotations.append(dict(text=t, xref=xr, yref=yr, x=0.481, y=1 - (19.0 + 19.0 * k) / PH,
                                xanchor="left", yanchor="middle", showarrow=False, font=txt_font))
    annotations.append(dict(text=time_labels[r], xref=xr, yref=yr, x=0.031, y=17.5 / PH,
                            xanchor="left", yanchor="middle", showarrow=False,
                            font=dict(family=FONT, size=17, color=colors[r])))
    xr, yr = ref(r, 2)
    for k, t in enumerate(right_pops_a[r]):
        annotations.append(dict(text=t, xref=xr, yref=yr, x=0.371, y=1 - (14.0 + 18.5 * k) / PH,
                                xanchor="left", yanchor="middle", showarrow=False, font=txt_font))
    for k, t in enumerate(right_pops_b[r]):
        annotations.append(dict(text=t, xref=xr, yref=yr, x=0.705, y=1 - (14.0 + 18.5 * k) / PH,
                                xanchor="left", yanchor="middle", showarrow=False, font=txt_font))
    annotations.append(dict(text=time_labels[r], xref=xr, yref=yr, x=0.029, y=1 - 24.0 / PH,
                            xanchor="left", yanchor="middle", showarrow=False,
                            font=dict(family=FONT, size=17, color=colors[r])))

def px(xp):
    return (xp - ML) / PW
def py(yp):
    return (H - MB - yp) / PHt

annotations.append(dict(text="H<sub>2</sub>D<sup> +</sup>", xref="paper", yref="paper", x=px(414), y=py(21),
                        xanchor="center", yanchor="middle", showarrow=False, font=dict(family=FONT, size=25, color="black")))
annotations.append(dict(text="D<sub>2</sub>H<sup> +</sup>", xref="paper", yref="paper", x=px(1047), y=py(21),
                        xanchor="center", yanchor="middle", showarrow=False, font=dict(family=FONT, size=25, color="black")))
annotations.append(dict(text="Detuning energy E<sub>d</sub> (eV)", xref="paper", yref="paper", x=px(667), y=py(1543),
                        xanchor="center", yanchor="middle", showarrow=False, font=dict(family=FONT, size=22, color="black")))
annotations.append(dict(text="Reduced merged beams rate coefficient \u221a<span style='text-decoration:overline'><i>E</i><sub>d</sub></span> "
                             "<i>\u03b1</i><sup>mb</sup> (10<sup>\u22129</sup> eV<sup>1/2</sup> cm<sup>3</sup> s<sup>\u22121</sup>)",
                        xref="paper", yref="paper", x=px(25), y=py(676), textangle=-90,
                        xanchor="center", yanchor="middle", showarrow=False, font=dict(family=FONT, size=22, color="black")))

fig.update_layout(width=W, height=H, margin=dict(l=ML, r=MR, t=MT, b=MB, autoexpand=False),
                  plot_bgcolor="white", paper_bgcolor="white", showlegend=False,
                  annotations=annotations, font=dict(family=FONT, color="black"))

fig.write_html("out.html")
